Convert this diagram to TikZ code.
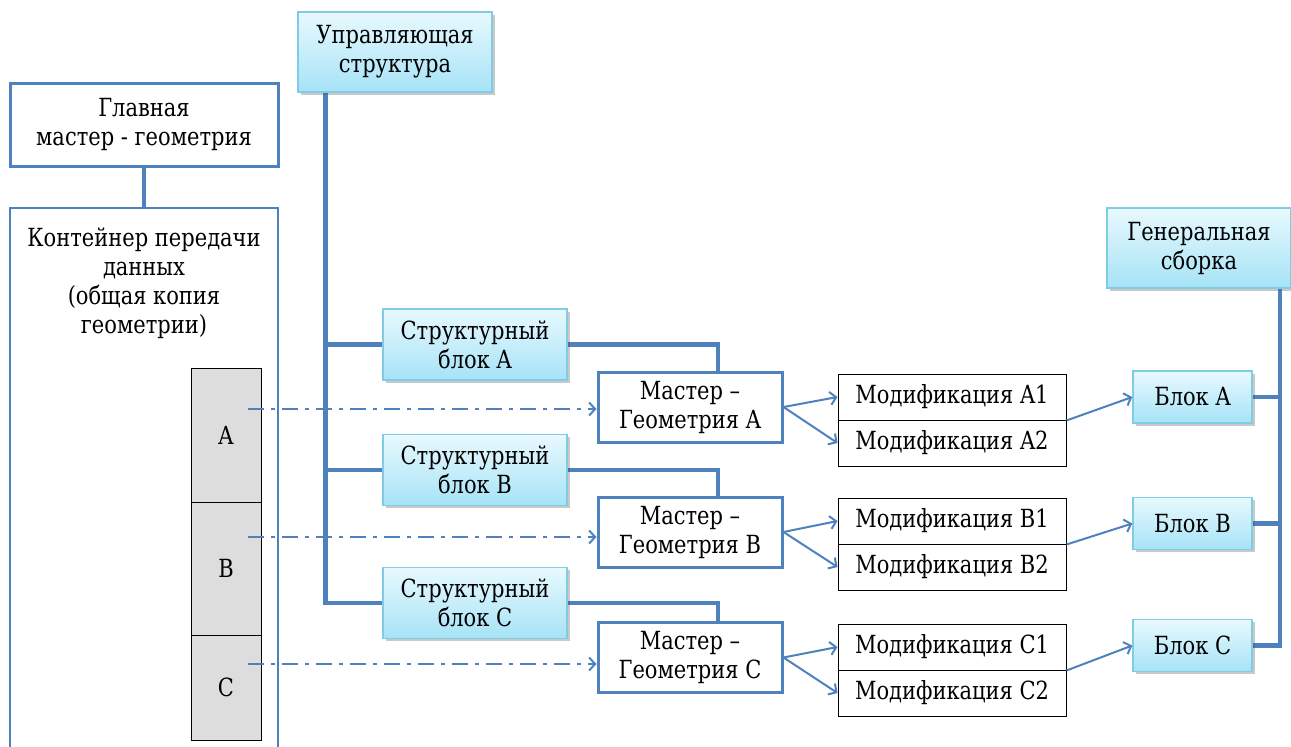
\documentclass[tikz,border=0pt]{standalone}
\usepackage{fontspec}
\setmainfont{DejaVu Serif}[FakeStretch=0.84]
\usetikzlibrary{arrows.meta,shadows,calc,backgrounds}
\definecolor{lblue}{HTML}{4F81BD}
\definecolor{cyb}{HTML}{7FCCE4}
\definecolor{cytop}{HTML}{E8F9FE}
\definecolor{cybot}{HTML}{A6E3F7}
\definecolor{cellgray}{HTML}{DDDDDD}
\begin{document}
\begin{tikzpicture}[x=1pt,y=-1pt,
  font=\rmfamily\fontsize{25}{29}\selectfont,
  cyanbox/.style={draw=cyb, line width=1.5pt, top color=cytop, bottom color=cybot,
    align=center, inner sep=0pt,
    drop shadow={shadow xshift=2.5pt, shadow yshift=-2.5pt, opacity=0.3, fill=black!70}},
  bluebox/.style={draw=lblue, line width=3pt, fill=white, align=center, inner sep=0pt},
  modbox/.style={draw=black, line width=1pt, fill=white, inner sep=0pt,
    minimum width=228pt, minimum height=46pt},
  cellbox/.style={draw=black, line width=1pt, fill=cellgray, inner sep=0pt,
    minimum width=70pt},
  thickline/.style={draw=lblue, line width=4.5pt},
  arr/.style={draw=lblue, line width=2pt, -{Straight Barb[length=6pt,width=13pt]}},
  dasharr/.style={arr, dash pattern=on 16pt off 7pt on 4pt off 7pt}]
\useasboundingbox (0,0) rectangle (1291,747);
\clip (0,0) rectangle (1291,747);

% top-left
\node[cyanbox, minimum width=194pt, minimum height=80pt] (ctrl) at (395,52) {Управляющая\\структура};
\node[bluebox, minimum width=268pt, minimum height=83pt] (main) at (144,124.5) {Главная\\мастер - геометрия};
\node[draw=lblue, line width=2.5pt, inner sep=0pt, minimum width=268pt, minimum height=544pt] (cont) at (144,480) {};
\node[align=center, inner sep=0pt] (conttxt) at (144,283) {Контейнер передачи\\данных\\(общая копия\\геометрии)};

% gray column
\node[cellbox, minimum height=134pt] (cA) at (226,435) {A};
\node[cellbox, minimum height=133pt] (cB) at (226,568.5) {B};
\node[cellbox, minimum height=105pt] (cC) at (226,687.5) {C};

% structural blocks
\node[cyanbox, minimum width=184pt, minimum height=71pt] (sbA) at (475,344.5) {Структурный\\блок A};
\node[cyanbox, minimum width=184pt, minimum height=71pt] (sbB) at (475,470) {Структурный\\блок B};
\node[cyanbox, minimum width=184pt, minimum height=71pt] (sbC) at (475,603) {Структурный\\блок C};

% masters
\node[bluebox, minimum width=184pt, minimum height=70pt] (mA) at (690,407) {Мастер –\\Геометрия A};
\node[bluebox, minimum width=184pt, minimum height=70pt] (mB) at (690,532) {Мастер –\\Геометрия B};
\node[bluebox, minimum width=184pt, minimum height=70pt] (mC) at (690,657.5) {Мастер –\\Геометрия C};

% modifications
\node[modbox] (mA1) at (952,397) {Модификация A1};
\node[modbox] (mA2) at (952,443) {Модификация A2};
\node[modbox] (mB1) at (952,521) {Модификация B1};
\node[modbox] (mB2) at (952,567) {Модификация B2};
\node[modbox] (mC1) at (952,647) {Модификация C1};
\node[modbox] (mC2) at (952,693) {Модификация C2};

% blocks
\node[cyanbox, minimum width=119pt, minimum height=52pt] (bA) at (1192.5,397) {Блок A};
\node[cyanbox, minimum width=119pt, minimum height=52pt] (bB) at (1192.5,523.5) {Блок B};
\node[cyanbox, minimum width=119pt, minimum height=52pt] (bC) at (1192.5,645.5) {Блок C};
\node[cyanbox, minimum width=184pt, minimum height=80pt] (gen) at (1199,248) {Генеральная\\сборка};

\coordinate (trunk) at ($(ctrl.south west)+(28,0)$);
\coordinate (gtrunk) at ($(gen.south)+(81,0)$);
\coordinate (dA) at (248,409);
\coordinate (dB) at (248,537);
\coordinate (dC) at (248,664);

\begin{scope}[on background layer]
\draw[thickline] ($(main.east)+(0,6)$) -- ($(main.east)+(0,6)$ -| trunk);
\draw[thickline] (trunk) |- (sbC.west);
\draw[thickline] (sbA.west) -- (sbA.west -| trunk);
\draw[thickline] (sbB.west) -- (sbB.west -| trunk);
\draw[thickline] (main.south) -- (cont.north);
\draw[thickline] (sbA.east) -| ($(mA.north)+(28,0)$);
\draw[thickline] (sbB.east) -| ($(mB.north)+(28,0)$);
\draw[thickline] (sbC.east) -| ($(mC.north)+(28,0)$);
\draw[thickline] (gtrunk) |- (bC.east);
\draw[thickline] (bA.east) -- (bA.east -| gtrunk);
\draw[thickline] (bB.east) -- (bB.east -| gtrunk);
\end{scope}

\draw[dasharr] (dA) -- (dA -| mA.west);
\draw[dasharr] (dB) -- (dB -| mB.west);
\draw[dasharr] (dC) -- (dC -| mC.west);

\draw[arr] (mA.east) -- (mA1.west);
\draw[arr] (mA.east) -- (mA2.west);
\draw[arr] (mB.east) -- (mB1.west);
\draw[arr] (mB.east) -- (mB2.west);
\draw[arr] (mC.east) -- (mC1.west);
\draw[arr] (mC.east) -- (mC2.west);

\draw[arr] (mA1.south east) -- (bA.west);
\draw[arr] (mB1.south east) -- (bB.west);
\draw[arr] (mC1.south east) -- (bC.west);
\end{tikzpicture}
\end{document}
